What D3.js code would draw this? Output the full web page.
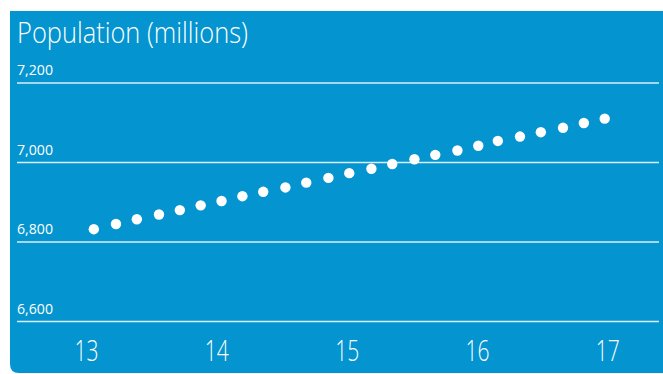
<!DOCTYPE html>
<html lang="en">
<head>
  <meta charset="UTF-8">
  <title>Population (millions)</title>
  <style>
    body { margin: 0; background: #fff; }
    svg { display: block; }
    .title { font-family: 'Open Sans', sans-serif; font-weight: 300; fill: #fff; }
    .y.axis text { font-family: 'Open Sans', sans-serif; font-size: 14px; fill: #fff; }
    .x.axis text { font-family: 'Open Sans', sans-serif; font-weight: 300; font-size: 30px; fill: #fff; }
    .grid line { stroke: #fff; stroke-opacity: 0.85; stroke-width: 1.5; }
    .dots circle { fill: #fff; }
  </style>
</head>
<body>
  <script src="https://d3js.org/d3.v7.min.js"></script>
  <script>
    // data (x in years since 2000, population in millions)
    const years = [13.06, 13.23, 13.39, 13.56, 13.72, 13.88, 14.04, 14.20, 14.36, 14.53,
                   14.69, 14.86, 15.02, 15.19, 15.35, 15.52, 15.68, 15.85, 16.01, 16.16,
                   16.33, 16.49, 16.66, 16.82, 16.98];
    const population = [6831, 6844, 6856, 6868, 6879, 6891, 6902, 6914, 6925, 6936,
                        6948, 6960, 6972, 6983, 6995, 7007, 7018, 7029, 7041, 7053,
                        7064, 7075, 7086, 7098, 7109];
    const xTicks = [13, 14, 15, 16, 17];
    const yTicks = [6600, 6800, 7000, 7200];
    const title = 'Population (millions)';

    const WIDTH = 663;
    const HEIGHT = 374;
    const svg = d3.select('body').append('svg')
      .attr('width', WIDTH)
      .attr('height', HEIGHT);

    // blue panel, square on top, rounded bottom-left corner
    const px = 10, py = 11, pb = 373, r = 9;
    svg.append('path')
      .attr('d', `M${px},${py}H${WIDTH}V${pb}H${px + r}Q${px},${pb} ${px},${pb - r}Z`)
      .attr('fill', '#0494d0');

    svg.append('text')
      .attr('class', 'title')
      .attr('x', 17)
      .attr('y', 43)
      .attr('font-size', 29)
      .attr('textLength', 231)
      .attr('lengthAdjust', 'spacingAndGlyphs')
      .text(title);

    const scaleX = d3.scaleLinear().domain([13, 17]).range([86, 607.3]);
    const scaleY = d3.scaleLinear().domain([6600, 7200]).range([321, 82.5]);

    // gridlines + labels above them
    const yAxis = d3.axisRight(scaleY)
      .tickValues(yTicks)
      .tickSize(642)
      .tickFormat(d3.format(','));
    svg.append('g')
      .attr('class', 'y axis grid')
      .attr('transform', 'translate(17,0)')
      .call(yAxis)
      .call(g => g.select('.domain').remove())
      .call(g => g.selectAll('text')
        .attr('x', 0)
        .attr('dy', -8)
        .attr('text-anchor', 'start')
        .attr('textLength', 36)
        .attr('lengthAdjust', 'spacingAndGlyphs'));

    const xAxis = d3.axisBottom(scaleX)
      .tickValues(xTicks)
      .tickSize(0)
      .tickFormat(d3.format('d'));
    svg.append('g')
      .attr('class', 'x axis')
      .attr('transform', 'translate(0,339)')
      .call(xAxis)
      .call(g => g.select('.domain').remove())
      .call(g => g.selectAll('text')
        .attr('y', 0)
        .attr('dy', 22)
        .attr('textLength', 24)
        .attr('lengthAdjust', 'spacingAndGlyphs'));

    svg.append('g')
      .attr('class', 'dots')
      .selectAll('circle')
      .data(years.map((y, i) => [y, population[i]]))
      .join('circle')
      .attr('cx', d => scaleX(d[0]))
      .attr('cy', d => scaleY(d[1]))
      .attr('r', 5.2);
  </script>
</body>
</html>
